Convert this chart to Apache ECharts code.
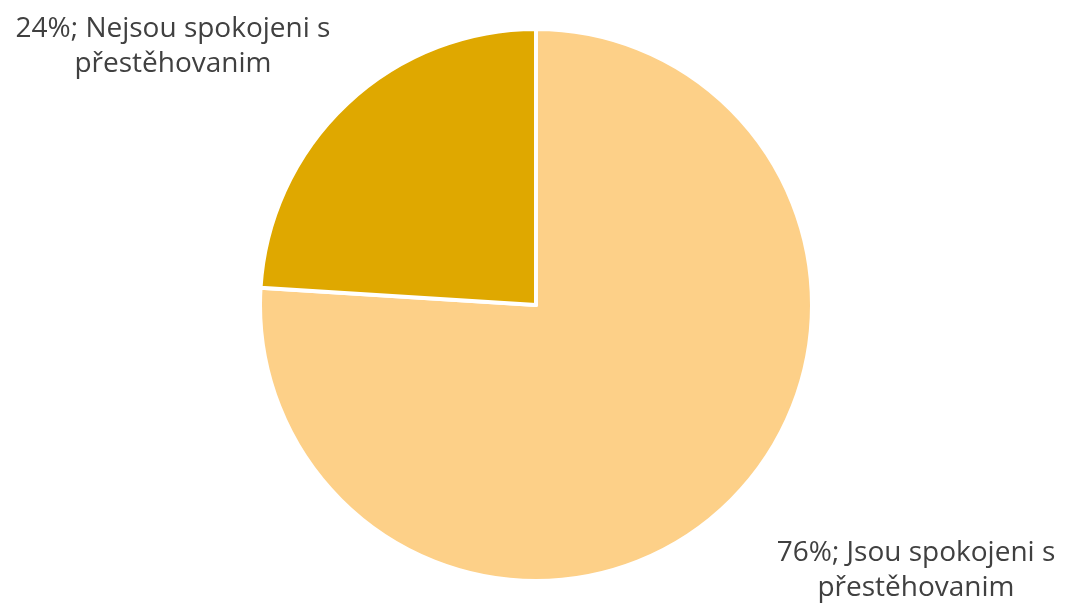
<!DOCTYPE html>
<html><head><meta charset="utf-8">
<script src="https://cdn.jsdelivr.net/npm/echarts@6/dist/echarts.min.js"></script>
<style>html,body{margin:0;padding:0;background:#fff}#c{width:1066px;height:606px}</style>
</head><body><div id="c"></div>
<script>
const categories = ['Jsou spokojeni s přestěhovanim', 'Nejsou spokojeni s přestěhovanim'];
const values = [76, 24];
const labelLines = [['76%; Jsou spokojeni s', 'přestěhovanim'], ['24%; Nejsou spokojeni s', 'přestěhovanim']];
const colors = ['#FDD088', '#DFA800'];
const labelPos = [{x: 916, y: 571}, {x: 173, y: 47}];

const chart = echarts.init(document.getElementById('c'));
chart.setOption({
  animation: false,
  series: [{
    type: 'pie',
    center: [536, 305],
    radius: [0, 276],
    startAngle: 90,
    clockwise: true,
    data: categories.map((n, i) => ({name: n, value: values[i], itemStyle: {color: colors[i]}})),
    itemStyle: {borderColor: '#fff', borderWidth: 4},
    label: {
      show: true,
      formatter: p => labelLines[p.dataIndex].join('\n'),
      fontFamily: 'Open Sans',
      fontSize: 28,
      lineHeight: 35,
      color: '#404040',
      align: 'center',
      overflow: 'none',
      width: 420
    },
    labelLine: {show: false},
    labelLayout: p => ({x: labelPos[p.dataIndex].x, y: labelPos[p.dataIndex].y, align: 'center', verticalAlign: 'middle', width: 420})
  }]
});
</script></body></html>
